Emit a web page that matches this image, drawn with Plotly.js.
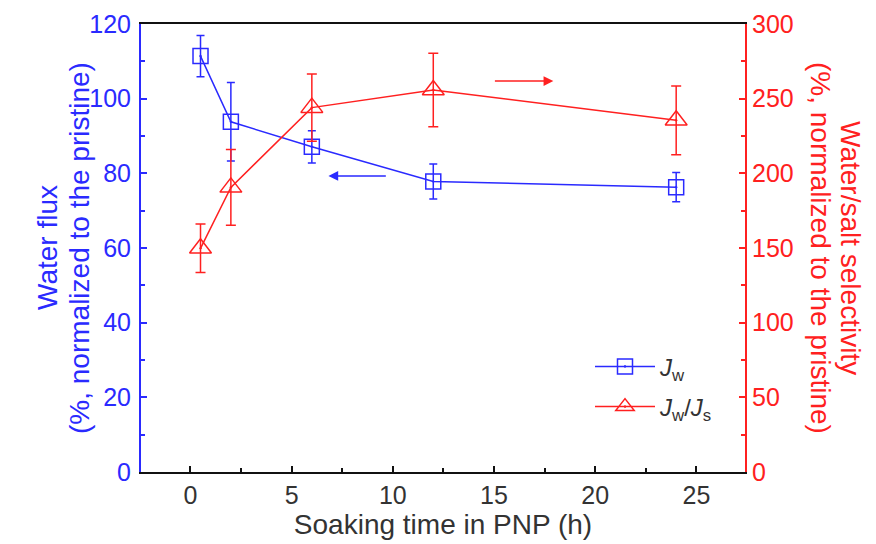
<!DOCTYPE html>
<html>
<head>
<meta charset="utf-8">
<script src="https://cdn.plot.ly/plotly-3.0.1.min.js"></script>
<style>html,body{margin:0;padding:0;background:#fff;}#chart{width:876px;height:544px;}</style>
</head>
<body>
<div id="chart"></div>
<script>
// Data
const soakTime = [0.5, 2, 6, 12, 24];
const waterFlux = [111.4, 93.8, 87.1, 77.8, 76.3];
const waterFluxErr = [5.5, 10.5, 4.3, 4.7, 3.9];
const selectivity = [149.8, 190.6, 244.0, 255.8, 235.5];
const selectivityErr = [16.2, 25.3, 22.5, 24.6, 23.0];
const xTicks = [0, 5, 10, 15, 20, 25];
const yLeftTicks = [0, 20, 40, 60, 80, 100, 120];
const yRightTicks = [0, 50, 100, 150, 200, 250, 300];

const BLUE = '#2a2aff';
const RED = '#ff2020';
const FONT = 'Liberation Sans, Arial, sans-serif';

// plot area in pixels (used to place the rotated axis titles)
const PL = 141, PR = 745, PW = PR - PL;
const px = v => (v - PL) / PW;

const traces = [
  {
    x: soakTime, y: waterFlux, type: 'scatter', mode: 'lines+markers',
    name: '<i>J</i><sub>w</sub>', legendgroup: 'a',
    line: {color: BLUE, width: 1.5},
    marker: {symbol: 'square-open-dot', size: 15, color: BLUE, line: {color: BLUE, width: 1.5}},
    error_y: {type: 'data', array: waterFluxErr, visible: true, color: BLUE, thickness: 1.5, width: 4},
    yaxis: 'y'
  },
  {
    x: soakTime, y: selectivity, type: 'scatter', mode: 'lines+markers',
    name: '<i>J</i><sub>w</sub>/<i>J</i><sub>s</sub>', legendgroup: 'b',
    line: {color: RED, width: 1.5},
    marker: {symbol: 'triangle-up-open-dot', size: 19, color: RED, line: {color: RED, width: 1.5}},
    error_y: {type: 'data', array: selectivityErr, visible: true, color: RED, thickness: 1.5, width: 5},
    yaxis: 'y2'
  }
];

const layout = {
  width: 876, height: 544,
  margin: {l: PL, r: 876 - PR, t: 24, b: 72},
  paper_bgcolor: '#fff', plot_bgcolor: '#fff',
  font: {family: FONT, size: 24, color: '#333'},
  showlegend: true,
  legend: {x: px(590), y: 0.285, xanchor: 'left', yanchor: 'top', bgcolor: 'rgba(0,0,0,0)',
           itemwidth: 60,
           font: {family: FONT, size: 24, color: '#333'}, tracegroupgap: 6},
  xaxis: {
    range: [-2.44, 27.4], tickvals: xTicks, ticktext: xTicks.map(String),
    ticks: 'inside', ticklen: 6, tickwidth: 2, tickcolor: '#111',
    minor: {dtick: 2.5, tick0: 0, ticks: 'inside', ticklen: 4, tickwidth: 2, tickcolor: '#111'},
    showline: true, linecolor: '#111', linewidth: 2, mirror: true,
    showgrid: false, zeroline: false,
    tickfont: {family: FONT, size: 25, color: '#333'},
    title: {text: 'Soaking time in PNP (h)', font: {family: FONT, size: 28, color: '#333'}, standoff: 6}
  },
  yaxis: {
    range: [0, 120], tickvals: yLeftTicks, ticktext: yLeftTicks.map(String),
    ticks: 'inside', ticklen: 6, tickwidth: 2, tickcolor: BLUE,
    minor: {dtick: 10, tick0: 0, ticks: 'inside', ticklen: 4, tickwidth: 2, tickcolor: BLUE},
    showline: true, linecolor: BLUE, linewidth: 2,
    showgrid: false, zeroline: false, ticklabelstandoff: 3,
    tickfont: {family: FONT, size: 25, color: BLUE}
  },
  yaxis2: {
    range: [0, 300], tickvals: yRightTicks, ticktext: yRightTicks.map(String),
    overlaying: 'y', side: 'right',
    ticks: 'inside', ticklen: 6, tickwidth: 2, tickcolor: RED,
    minor: {dtick: 25, tick0: 0, ticks: 'inside', ticklen: 4, tickwidth: 2, tickcolor: RED},
    showline: true, linecolor: RED, linewidth: 2,
    showgrid: false, zeroline: false,
    tickfont: {family: FONT, size: 25, color: RED}
  },
  annotations: [
    {xref: 'paper', yref: 'paper', x: px(47), y: 0.5, xanchor: 'center', yanchor: 'middle',
     textangle: -90, showarrow: false, text: 'Water flux',
     font: {family: FONT, size: 28, color: BLUE}},
    {xref: 'paper', yref: 'paper', x: px(79), y: 0.5, xanchor: 'center', yanchor: 'middle',
     textangle: -90, showarrow: false, text: '(%, normalized to the pristine)',
     font: {family: FONT, size: 28, color: BLUE}},
    {xref: 'paper', yref: 'paper', x: px(851), y: 0.5, xanchor: 'center', yanchor: 'middle',
     textangle: 90, showarrow: false, text: 'Water/salt selectivity',
     font: {family: FONT, size: 28, color: RED}},
    {xref: 'paper', yref: 'paper', x: px(821), y: 0.5, xanchor: 'center', yanchor: 'middle',
     textangle: 90, showarrow: false, text: '(%, normalized to the pristine)',
     font: {family: FONT, size: 28, color: RED}},
    {xref: 'x', yref: 'y', axref: 'x', ayref: 'y', x: 6.82, y: 79.3, ax: 9.73, ay: 79.3,
     showarrow: true, arrowhead: 2, arrowsize: 1.3, arrowwidth: 1.5, arrowcolor: BLUE, text: ''},
    {xref: 'x', yref: 'y2', axref: 'x', ayref: 'y2', x: 17.93, y: 261.8, ax: 14.97, ay: 261.8,
     showarrow: true, arrowhead: 2, arrowsize: 1.3, arrowwidth: 1.5, arrowcolor: RED, text: ''}
  ]
};

Plotly.newPlot('chart', traces, layout, {displayModeBar: false, staticPlot: true});
</script>
</body>
</html>
